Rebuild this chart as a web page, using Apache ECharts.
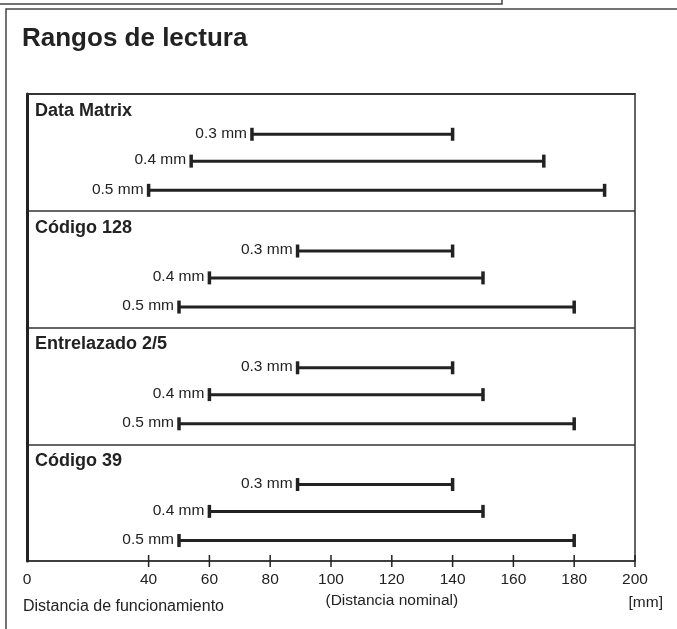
<!DOCTYPE html>
<html>
<head>
<meta charset="utf-8">
<script src="https://cdn.jsdelivr.net/npm/echarts@6/dist/echarts.min.js"></script>
<style>
html,body{margin:0;padding:0;background:#fff;}
#chart{width:677px;height:629px;}
</style>
</head>
<body>
<div id="chart"></div>
<script>
// ---- data ----
const chartTitle = 'Rangos de lectura';
const groups = ['Data Matrix', 'Código 128', 'Entrelazado 2/5', 'Código 39'];
const modules = ['0.3 mm', '0.4 mm', '0.5 mm'];
const rangeStart = [
  [74, 54, 40],
  [89, 60, 50],
  [89, 60, 50],
  [89, 60, 50]
];
const rangeEnd = [
  [140, 170, 190],
  [140, 150, 180],
  [140, 150, 180],
  [140, 150, 180]
];
const tickValues = [40, 60, 80, 100, 120, 140, 160, 180, 200];
const tickLabels = [0, 40, 60, 80, 100, 120, 140, 160, 180, 200];
const axisCaption = 'Distancia de funcionamiento';
const nominalCaption = '(Distancia nominal)';
const nominalAt = 120;
const unitCaption = '[mm]';

// ---- layout ----
const rowOffsets = [0.345, 0.575, 0.825];
const INK = '#222';
const FONT = '"Liberation Sans", Arial, Helvetica, sans-serif';

const barData = [];
groups.forEach((g, gi) => {
  modules.forEach((m, mi) => {
    barData.push([rangeStart[gi][mi], rangeEnd[gi][mi], gi + rowOffsets[mi], m]);
  });
});
const groupData = groups.map((g, gi) => [0, gi, g]);
const tickData = tickValues.map(v => [v, groups.length]);

const chart = echarts.init(document.getElementById('chart'), null, {renderer: 'canvas'});
chart.setOption({
  animation: false,
  backgroundColor: '#fff',
  title: {
    text: chartTitle,
    left: 17, top: 21,
    textStyle: {fontFamily: FONT, fontSize: 26, fontWeight: 'bold', color: INK}
  },
  grid: {
    left: 27, right: 42, top: 94, bottom: 68,
    show: true, borderColor: '#333', borderWidth: 1.5, backgroundColor: 'transparent'
  },
  xAxis: {
    type: 'value', min: 0, max: 200, interval: 20,
    axisLine: {show: true, lineStyle: {color: '#333', width: 1.5}},
    axisTick: {show: false},
    splitLine: {show: false},
    axisLabel: {
      margin: 11, fontFamily: FONT, fontSize: 15.5, color: INK,
      formatter: v => tickLabels.indexOf(v) >= 0 ? String(v) : ''
    }
  },
  yAxis: {
    type: 'value', min: 0, max: groups.length, interval: 1, inverse: true,
    axisLine: {show: true, onZero: false, lineStyle: {color: INK, width: 3}},
    axisTick: {show: false},
    axisLabel: {show: false},
    splitLine: {show: true, lineStyle: {color: '#333', width: 1.5}}
  },
  graphic: [
    {type: 'polyline', shape: {points: [[0, 4], [502, 4], [502, -2]]}, style: {stroke: '#444', lineWidth: 1.5, fill: null}},
    {type: 'polyline', shape: {points: [[6, 640], [6, 9], [690, 9]]}, style: {stroke: '#444', lineWidth: 1.5, fill: null}},
    {type: 'text', left: 23, top: 599, style: {text: axisCaption, font: '16px ' + FONT, fill: INK}}
  ],
  series: [
    {
      type: 'custom',
      name: 'ranges',
      data: barData,
      encode: {x: [0, 1], y: 2},
      renderItem: function (params, api) {
        const s = api.coord([api.value(0), api.value(2)]);
        const e = api.coord([api.value(1), api.value(2)]);
        const label = barData[params.dataIndex][3];
        const lw = 3, cap = 6.5;
        return {
          type: 'group',
          children: [
            {type: 'line', shape: {x1: s[0], y1: s[1], x2: e[0], y2: e[1]}, style: {stroke: INK, lineWidth: lw}},
            {type: 'line', shape: {x1: s[0], y1: s[1] - cap, x2: s[0], y2: s[1] + cap}, style: {stroke: INK, lineWidth: 3.5}},
            {type: 'line', shape: {x1: e[0], y1: e[1] - cap, x2: e[0], y2: e[1] + cap}, style: {stroke: INK, lineWidth: 3.5}},
            {type: 'text', x: s[0] - 5, y: s[1] - 1, style: {text: label, font: '15.5px ' + FONT, fill: INK, textAlign: 'right', textVerticalAlign: 'middle'}}
          ]
        };
      }
    },
    {
      type: 'custom',
      name: 'groups',
      data: groupData,
      encode: {x: 0, y: 1},
      renderItem: function (params, api) {
        const p = api.coord([api.value(0), api.value(1)]);
        return {
          type: 'text', x: p[0] + 8, y: p[1] + 17,
          style: {text: groupData[params.dataIndex][2], font: 'bold 18px ' + FONT, fill: INK, textAlign: 'left', textVerticalAlign: 'middle'}
        };
      }
    },
    {
      type: 'custom',
      name: 'ticks',
      data: tickData,
      encode: {x: 0, y: 1},
      clip: false,
      renderItem: function (params, api) {
        const p = api.coord([api.value(0), api.value(1)]);
        return {type: 'line', shape: {x1: p[0], y1: p[1] - 6, x2: p[0], y2: p[1] + 6}, style: {stroke: INK, lineWidth: 1.5}};
      }
    },
    {
      type: 'custom',
      name: 'captions',
      data: [[nominalAt, groups.length], [200, groups.length]],
      encode: {x: 0, y: 1},
      clip: false,
      renderItem: function (params, api) {
        const p = api.coord([api.value(0), api.value(1)]);
        if (params.dataIndex === 0) {
          return {type: 'text', x: p[0], y: p[1] + 40, style: {text: nominalCaption, font: '15.5px ' + FONT, fill: INK, textAlign: 'center', textVerticalAlign: 'middle'}};
        }
        return {type: 'text', x: p[0] + 28, y: p[1] + 42, style: {text: unitCaption, font: '15.5px ' + FONT, fill: INK, textAlign: 'right', textVerticalAlign: 'middle'}};
      }
    }
  ]
});
</script>
</body>
</html>
